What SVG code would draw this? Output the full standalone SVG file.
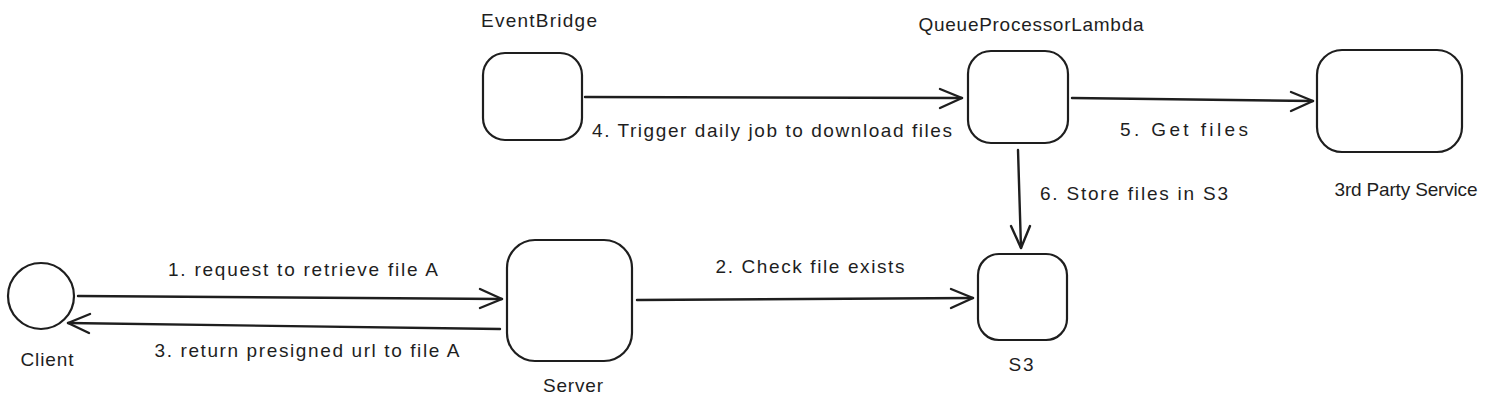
<svg xmlns="http://www.w3.org/2000/svg" width="1489" height="408" viewBox="0 0 1489 408">
  <style>
    .shape { fill: #ffffff; stroke: #1e1e1e; stroke-width: 2.2; }
    .edge { fill: none; stroke: #1e1e1e; stroke-width: 2.4; stroke-linecap: round; stroke-linejoin: round; }
    .lbl { font-family: "Liberation Sans", "DejaVu Sans", sans-serif; font-size: 19px; fill: #1e1e1e; text-anchor: middle; }
  </style>
  <rect width="1489" height="408" fill="#ffffff"/>

  <g id="client">
    <ellipse class="shape" cx="41" cy="296" rx="33" ry="33"/>
    <text class="lbl" x="47" y="366" textLength="53">Client</text>
  </g>
  <g id="server">
    <rect class="shape" x="507" y="240" width="125" height="121" rx="28" ry="28"/>
    <text class="lbl" x="573" y="392" textLength="60">Server</text>
  </g>
  <g id="s3">
    <rect class="shape" x="978" y="254" width="89" height="86" rx="21" ry="21"/>
    <text class="lbl" x="1021" y="371" textLength="25">S3</text>
  </g>
  <g id="eventbridge">
    <rect class="shape" x="483" y="53" width="99" height="87" rx="22" ry="22"/>
    <text class="lbl" x="539" y="27" textLength="116">EventBridge</text>
  </g>
  <g id="queueprocessor">
    <rect class="shape" x="968" y="51" width="100" height="92" rx="23" ry="23"/>
    <text class="lbl" x="1031" y="31" textLength="225">QueueProcessorLambda</text>
  </g>
  <g id="thirdparty">
    <rect class="shape" x="1317" y="50" width="145" height="102" rx="25" ry="25"/>
    <text class="lbl" x="1406" y="196" textLength="143">3rd Party Service</text>
  </g>

  <g id="connectors">
    <!-- 1 Client -> Server -->
    <path class="edge" d="M78 296 L502 299"/>
    <path class="edge" d="M480 289 L502 299 L480 308"/>
    <text class="lbl" x="303" y="276" textLength="270">1. request to retrieve file A</text>
    <!-- 3 Server -> Client -->
    <path class="edge" d="M500 329 L68 323"/>
    <path class="edge" d="M90 314 L68 323 L89 333"/>
    <text class="lbl" x="307" y="357" textLength="305">3. return presigned url to file A</text>
    <!-- 2 Server -> S3 -->
    <path class="edge" d="M637 300 L973 298"/>
    <path class="edge" d="M951 289 L973 298 L951 308"/>
    <text class="lbl" x="810" y="273" textLength="189">2. Check file exists</text>
    <!-- 4 EventBridge -> QueueProcessor -->
    <path class="edge" d="M585 97 L962 98"/>
    <path class="edge" d="M940 89 L962 98 L940 108"/>
    <text class="lbl" x="772" y="137" textLength="360">4. Trigger daily job to download files</text>
    <!-- 5 QueueProcessor -> 3rd Party -->
    <path class="edge" d="M1072 98 L1313 101"/>
    <path class="edge" d="M1291 92 L1313 101 L1291 111"/>
    <text class="lbl" x="1184" y="136" textLength="128">5. Get files</text>
    <!-- 6 QueueProcessor -> S3 -->
    <path class="edge" d="M1018 150 L1021 248"/>
    <path class="edge" d="M1011 226 L1021 248 L1030 226"/>
    <text class="lbl" x="1134" y="200" textLength="188">6. Store files in S3</text>
  </g>
</svg>
